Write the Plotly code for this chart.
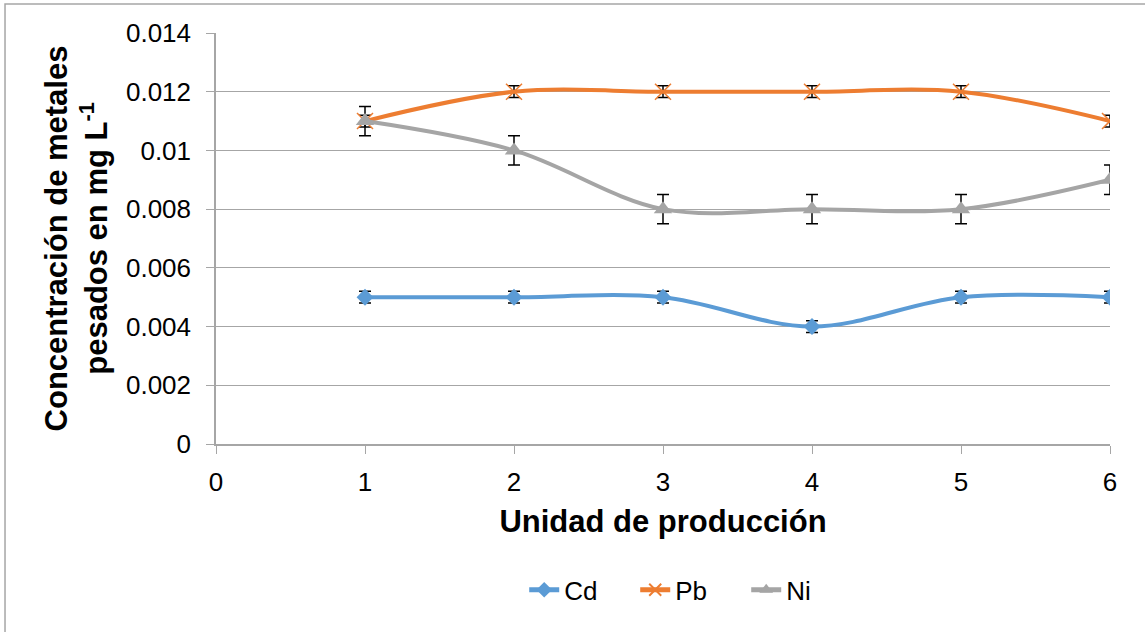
import plotly.graph_objects as go

units = [1, 2, 3, 4, 5, 6]
cd = [0.005, 0.005, 0.005, 0.004, 0.005, 0.005]
pb = [0.011, 0.012, 0.012, 0.012, 0.012, 0.011]
ni = [0.011, 0.010, 0.008, 0.008, 0.008, 0.009]
cd_err = [0.0002] * 6
pb_err = [0.0002] * 6
ni_err = [0.0005] * 6

x_ticks = [0, 1, 2, 3, 4, 5, 6]
y_ticks = [0, 0.002, 0.004, 0.006, 0.008, 0.01, 0.012, 0.014]
y_labels = ["0", "0.002", "0.004", "0.006", "0.008", "0.01", "0.012", "0.014"]

FONT = "Liberation Sans, Arial, sans-serif"

def err(vals):
    return dict(type="data", array=vals, visible=True, color="black", thickness=1.5, width=6)

fig = go.Figure()
fig.add_trace(go.Scatter(x=units, y=cd, name="Cd", mode="lines+markers",
                         line=dict(color="#5B9BD5", width=4, shape="spline"),
                         marker=dict(symbol="diamond", size=13, color="#5B9BD5"),
                         error_y=err(cd_err)))
fig.add_trace(go.Scatter(x=units, y=pb, name="Pb", mode="lines+markers",
                         line=dict(color="#ED7D31", width=4, shape="spline"),
                         marker=dict(symbol="x-thin-open", size=16, color="#ED7D31",
                                     line=dict(color="#ED7D31", width=1.5)),
                         error_y=err(pb_err)))
fig.add_trace(go.Scatter(x=units, y=ni, name="Ni", mode="lines+markers",
                         line=dict(color="#A5A5A5", width=4, shape="spline"),
                         marker=dict(symbol="triangle-up", size=16, color="#A5A5A5"),
                         error_y=err(ni_err)))

fig.update_layout(
    width=1145, height=632,
    margin=dict(l=216, r=35, t=33, b=188),
    paper_bgcolor="white", plot_bgcolor="white",
    font=dict(family=FONT, size=26, color="black"),
    showlegend=True,
    legend=dict(orientation="h", x=0.531, xanchor="center", y=-0.355, yanchor="middle",
                font=dict(size=26), entrywidth=66, entrywidthmode="pixels",
                itemsizing="constant"),
    xaxis=dict(range=[0, 6], tickvals=x_ticks, ticks="outside", ticklen=8,
               tickcolor="#A6A6A6", showline=True, linecolor="#A6A6A6", linewidth=1.5,
               showgrid=False, zeroline=False, tickfont=dict(size=26),
               ticklabelstandoff=6,
               title=dict(text="<b>Unidad de producción</b>", font=dict(size=31), standoff=14)),
    yaxis=dict(range=[0, 0.014], tickvals=y_ticks, ticktext=y_labels, ticks="outside",
               ticklen=8, tickcolor="#A6A6A6", showline=True, linecolor="#A6A6A6",
               linewidth=1.5, showgrid=True, gridcolor="#A6A6A6", gridwidth=1.2,
               zeroline=False, tickfont=dict(size=26), ticklabelstandoff=10,
               title=dict(text="<b>Concentración de metales<br>pesados en mg L<sup>-1</sup></b>",
                          font=dict(size=31), standoff=9)),
)

fig.add_shape(type="rect", xref="paper", yref="paper",
              x0=-0.236, x1=1.2, y0=-0.7, y1=1.0706,
              line=dict(color="#A6A6A6", width=1.5), fillcolor="rgba(0,0,0,0)", layer="below")

fig.write_html("out.html")
